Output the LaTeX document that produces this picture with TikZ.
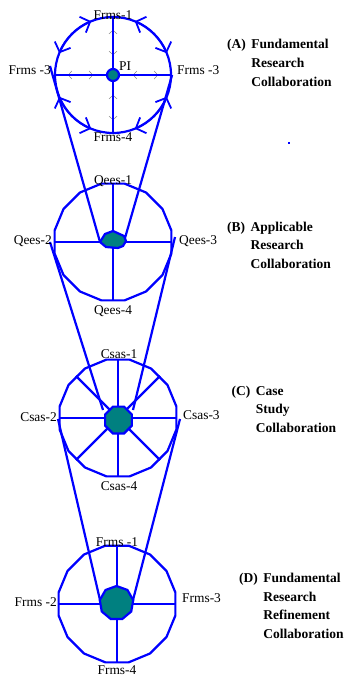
\documentclass[tikz,border=0pt]{standalone}
\usepackage{fontspec}
\setmainfont{Liberation Serif}
\usetikzlibrary{positioning,arrows.meta,shapes.geometric,calc}
\definecolor{ringblue}{RGB}{0,0,255}
\definecolor{coreteal}{RGB}{0,128,128}

\begin{document}
\begin{tikzpicture}[x=1pt, y=-1pt,
    ring/.style={draw=ringblue, line width=2.2pt, inner sep=0pt, regular polygon, regular polygon sides=16, minimum size=119pt},
    spoke/.style={draw=ringblue, line width=2.2pt},
    funnel/.style={draw=ringblue, line width=2.2pt},
    core/.style={draw=ringblue, line width=2.2pt, fill=coreteal, inner sep=0pt},
    flow/.style={draw=ringblue, line width=1.8pt, {Straight Barb[length=8pt,width=17pt]}-{Straight Barb[length=8pt,width=17pt]}},
    probe/.style={draw=gray, line width=0.5pt, {Straight Barb[length=3.5pt,width=8pt]}-{Straight Barb[length=3.5pt,width=8pt]}},
    lbl/.style={font=\fontsize{13.4}{16}\selectfont, inner sep=0pt},
    stage/.style={font=\fontsize{13.5}{18.6}\selectfont\bfseries, inner sep=0pt, anchor=base west}
  ]
  \useasboundingbox (0,0) rectangle (344,679);

  % the four collaboration rings
  \node[circle, draw=ringblue, line width=2.2pt, minimum size=116pt, inner sep=0pt] (ringA) at (113,75) {};
  \node[ring] (ringB) at (113,242) {};
  \node[ring] (ringC) at (118,418) {};
  \node[ring] (ringD) at (117,604) {};

  \foreach \a in {0,90,180,270}
    \draw[probe] ($(ringA.center)+(\a:20)$) -- ($(ringA.center)+(\a:45)$);

  \foreach \r in {ringA,ringB,ringD} {
    \draw[spoke] (\r.north) -- (\r.south);
    \draw[spoke] (\r.west) -- (\r.east);
  }
  \foreach \a in {0,45,...,315}
    \draw[spoke] (ringC.center) -- (ringC.\a);

  \foreach \a in {0,90,180,270}
    \draw[flow] ($(ringA.center)+(\a+22:58)$) arc[start angle=\a+22, end angle=\a+68, radius=58];

  % funnels between stages
  \coordinate (fA1) at (50,66);
  \coordinate (fB1) at (100,242);
  \coordinate (fB2) at (125,238);
  \coordinate (fB3) at (50,242);
  \coordinate (fB4) at (175,237);
  \coordinate (fC1) at (103,410);
  \coordinate (fC2) at (133,410);
  \coordinate (fC3) at (58,419);
  \coordinate (fC4) at (180,419);
  \coordinate (fD1) at (100,600);
  \coordinate (fD2) at (133,600);
  \draw[funnel] (fA1) -- (fB1);
  \draw[funnel] (ringA.east) -- (fB2);
  \draw[funnel] (fB3) -- (fC1);
  \draw[funnel] (fB4) -- (fC2);
  \draw[funnel] (fC3) -- (fD1);
  \draw[funnel] (fC4) -- (fD2);

  % cores
  \node[core, circle, minimum size=12pt] (coreA) at (ringA.center) {};
  \coordinate (coreB) at (113,240);
  \draw[core] (100,242) -- (105,234) -- (113,231) -- (124,236) -- (126,241)
    -- (123,246) -- (118,248) -- (106,247) -- cycle;
  \node[core, regular polygon, regular polygon sides=8, minimum size=29pt] (coreC) at (118.5,420) {};
  \node[core, regular polygon, regular polygon sides=9, minimum size=34pt] (coreD) at (116.5,603) {};

  % ring labels
  \node[lbl] (lA1) at (113,15) {Frms-1};
  \node[lbl, anchor=east] (lA2) at (51,70) {Frms -3};
  \node[lbl, anchor=west] (lA3) at (177,70) {Frms -3};
  \node[lbl] (lA4) at (113,137) {Frms-4};
  \node[lbl, anchor=west] (lPI) at (119,66) {PI};

  \node[lbl] (lB1) at (113,181) {Qees-1};
  \node[lbl, anchor=east] (lB2) at (52,241) {Qees-2};
  \node[lbl, anchor=west] (lB3) at (179,241) {Qees-3};
  \node[lbl] (lB4) at (113,311) {Qees-4};

  \node[lbl] (lC1) at (119,354) {Csas-1};
  \node[lbl, anchor=east] (lC2) at (57,417) {Csas-2};
  \node[lbl, anchor=west] (lC3) at (183,415) {Csas-3};
  \node[lbl] (lC4) at (119,486) {Csas-4};

  \node[lbl] (lD1) at (117,542) {Frms -1};
  \node[lbl, anchor=east] (lD2) at (57,602) {Frms -2};
  \node[lbl, anchor=west] (lD3) at (182,598) {Frms-3};
  \node[lbl] (lD4) at (117,670) {Frms-4};

  % stage titles
  \node[stage] (stA) at (227,49) {\begin{tabular}[t]{@{}l@{\hspace{5.5pt}}l@{}}(A) & Fundamental\\ & Research\\ & Collaboration\end{tabular}};
  \node[stage] (stB) at (227,231) {\begin{tabular}[t]{@{}l@{\hspace{5.5pt}}l@{}}(B) & Applicable\\ & Research\\ & Collaboration\end{tabular}};
  \node[stage] (stC) at (231.5,395) {\begin{tabular}[t]{@{}l@{\hspace{5.5pt}}l@{}}(C) & Case\\ & Study\\ & Collaboration\end{tabular}};
  \node[stage] (stD) at (239,582.5) {\begin{tabular}[t]{@{}l@{\hspace{5.5pt}}l@{}}(D) & Fundamental\\ & Research\\ & Refinement\\ & Collaboration\end{tabular}};

  \fill[ringblue] (288,142) rectangle (290,144);
\end{tikzpicture}
\end{document}
